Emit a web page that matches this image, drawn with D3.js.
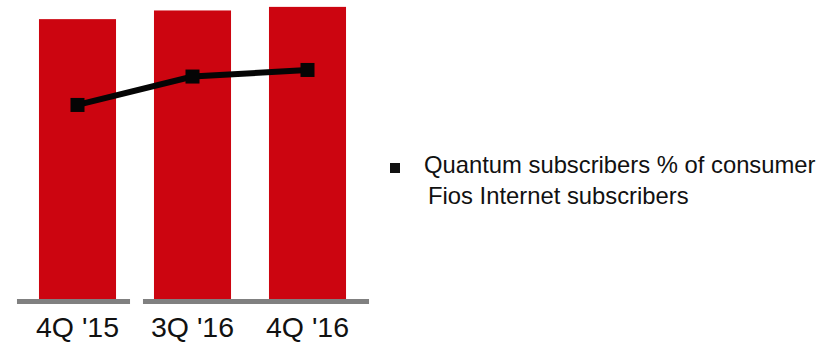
<!DOCTYPE html>
<html>
<head>
<meta charset="utf-8">
<script src="https://cdn.jsdelivr.net/npm/d3@7"></script>
<style>
    body { margin: 0; background: #fff; }
    svg text { font-family: "Liberation Sans", Arial, sans-serif; }
</style>
</head>
<body>
<div id="chart"></div>
<script>
// quarters on the x axis
let quarters = ["4Q '15", "3Q '16", "4Q '16"];
// bar heights (share of plot height, %)
let barValues = [93.6, 96.5, 97.7];
// Quantum subscribers % of consumer Fios Internet subscribers
let quantumShare = [64.9, 74.4, 76.6];
let legendLines = ["Quantum subscribers % of consumer", "Fios Internet subscribers"];

let width = 836, height = 342;
let baseY = 299;

let svg = d3.select("#chart").append("svg")
    .attr("width", width)
    .attr("height", height);

let x = d3.scaleBand()
    .domain(quarters)
    .range([20, 365])
    .paddingInner(0.33)
    .paddingOuter(0.165);

let y = d3.scaleLinear()
    .domain([0, 100])
    .range([baseY, 0]);

// bars
svg.selectAll(".bar").data(barValues)
    .enter().append("rect")
    .attr("class", "bar")
    .attr("x", (d, i) => x(quarters[i]))
    .attr("y", d => y(d))
    .attr("width", x.bandwidth())
    .attr("height", d => y(0) - y(d))
    .attr("fill", "#cc0510");

// gray baseline, split in two pieces
let segs = [
    {x1: x(quarters[0]) - 22, x2: x(quarters[0]) + x.bandwidth() + 14},
    {x1: x(quarters[1]) - 11, x2: x(quarters[2]) + x.bandwidth() + 23}
];
svg.selectAll(".base").data(segs)
    .enter().append("rect")
    .attr("class", "base")
    .attr("x", d => d.x1)
    .attr("y", y(0))
    .attr("width", d => d.x2 - d.x1)
    .attr("height", 5)
    .attr("fill", "#808080");

// line
let line = d3.line()
    .x((d, i) => x(quarters[i]) + x.bandwidth() / 2)
    .y(d => y(d));

svg.append("path")
    .datum(quantumShare)
    .attr("d", line)
    .attr("fill", "none")
    .attr("stroke", "#050505")
    .attr("stroke-width", 6);

let m = 14;
svg.selectAll(".marker").data(quantumShare)
    .enter().append("rect")
    .attr("class", "marker")
    .attr("x", (d, i) => x(quarters[i]) + x.bandwidth() / 2 - m / 2)
    .attr("y", d => y(d) - m / 2)
    .attr("width", m)
    .attr("height", m)
    .attr("fill", "#050505");

// x labels
svg.selectAll(".xlab").data(quarters)
    .enter().append("text")
    .attr("class", "xlab")
    .attr("x", d => x(d) + x.bandwidth() / 2)
    .attr("y", 336.5)
    .attr("text-anchor", "middle")
    .attr("font-size", "28.5px")
    .attr("fill", "#111")
    .text(d => d);

// legend
let legend = svg.append("g").attr("transform", "translate(390,163)");
legend.append("rect")
    .attr("width", 10)
    .attr("height", 10)
    .attr("fill", "#111");
legend.selectAll("text").data(legendLines)
    .enter().append("text")
    .attr("x", (d, i) => i == 0 ? 34 : 38)
    .attr("y", (d, i) => 10 + i * 31)
    .attr("font-size", "23.8px")
    .attr("fill", "#111")
    .text(d => d);
</script>
</body>
</html>
